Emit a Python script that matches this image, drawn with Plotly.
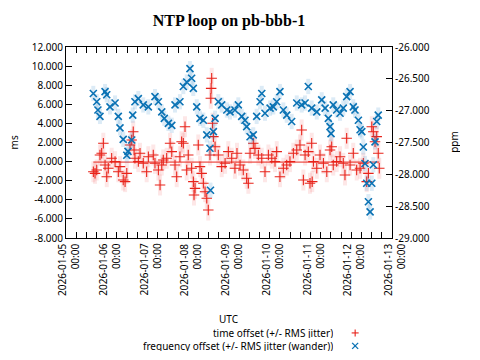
import pandas as pd
import plotly.graph_objects as go

# ---- data (hours after 2026-01-05 00:00 UTC) ----
t_off = [16.1,17.1,18.1,20.0,21.0,22.0,23.0,24.0,24.9,26.9,
         28.9,30.8,31.8,33.7,34.8,35.8,37.7,38.7,39.6,40.1,
         40.6,42.6,43.6,45.5,47.5,48.5,51.4,52.4,54.4,55.4,
         56.4,57.3,59.3,61.3,62.3,64.2,65.2,67.1,68.1,69.1,
         70.1,71.1,72.0,74.0,75.0,75.4,76.0,77.9,78.9,79.9,
         80.9,81.9,82.9,83.8,84.8,85.3,85.5,85.8,86.3,86.8,
         87.8,89.7,91.7,93.7,95.6,97.6,99.5,100.7,102.5,104.4,
         106.4,107.4,108.4,110.3,111.3,113.3,115.3,117.2,119.2,121.2,
         123.1,124.1,126.0,128.0,130.0,131.9,133.9,135.9,137.8,138.8,
         139.8,140.8,142.7,143.7,144.7,145.0,145.7,147.7,149.6,151.6,
         153.6,155.5,156.5,157.4,159.4,161.4,163.3,164.3,165.3,167.3,
         169.2,171.2,173.2,175.1,177.1,178.1,180.1,181.0,182.0,183.0,
         183.9,184.5]
offset_ms = [-1.06,-1.23,-0.88,0.69,0.87,1.92,-0.36,-1.58,-0.70,0.35,
             0.0,-1.06,-0.53,-1.93,-2.10,-1.23,1.74,2.26,3.13,1.21,
             0.35,0.0,0.87,-0.18,-1.06,0.51,0.69,-0.18,-0.88,-2.45,
             -0.36,0.17,0.35,1.92,1.04,-0.36,-1.58,0.51,2.08,1.92,
             3.65,-0.88,0.69,-0.70,-2.10,-3.50,-2.80,1.74,-0.53,-1.23,
             -2.27,-3.15,-3.84,-5.07,0.69,6.63,7.67,8.72,4.01,2.61,
             1.56,0.69,-0.53,-0.18,1.04,0.35,-0.70,0.87,-0.36,-0.88,
             -1.75,-2.27,0.87,1.92,1.39,0.69,0.35,-1.06,0.69,0.35,
             0.0,1.04,-1.58,-0.70,-0.36,0.0,0.87,1.21,1.74,3.31,
             -1.93,0.69,1.04,-2.27,1.92,-2.10,0.0,-0.70,0.69,-0.18,
             -1.06,1.21,1.56,-0.36,0.0,0.51,-0.18,-1.40,2.44,-0.36,
             0.87,-0.88,-0.70,-0.18,-2.10,-1.23,3.65,3.13,2.08,2.61,
             0.87,-0.70]
t_freq = [16.1,18.1,18.8,20.0,23.0,24.0,25.9,28.9,30.8,31.8,
          33.7,35.8,36.5,38.7,39.3,40.6,42.6,45.5,48.5,52.4,
          54.4,56.4,57.9,60.3,62.3,64.2,67.1,69.1,71.1,73.0,
          74.0,75.0,77.0,78.9,80.9,82.9,84.8,85.1,86.8,87.8,
          89.7,91.7,94.7,96.6,99.5,101.5,103.5,105.4,106.4,108.4,
          110.3,112.3,114.3,115.3,117.2,120.2,122.1,124.1,126.0,128.0,
          130.0,132.9,135.9,138.8,140.8,142.7,144.7,147.7,150.6,152.6,
          154.5,155.5,156.1,157.4,159.4,161.4,163.3,165.3,167.3,169.2,
          170.2,172.2,173.2,174.2,175.1,176.1,177.1,178.1,179.1,180.1,
          181.0,182.0,183.0,183.9]
freq_ppm = [-26.73,-26.86,-26.99,-27.09,-26.70,-26.75,-26.94,-26.88,-27.09,-27.27,
            -27.45,-27.70,-27.64,-27.46,-27.07,-26.86,-26.81,-26.91,-26.94,-26.78,
            -26.86,-27.02,-27.12,-27.20,-27.23,-26.91,-26.86,-26.62,-26.55,-26.34,
            -26.49,-26.65,-26.94,-27.12,-27.15,-27.38,-27.59,-28.25,-27.33,-27.12,
            -26.86,-26.91,-26.99,-27.02,-26.99,-26.91,-27.09,-27.15,-27.25,-27.41,
            -27.38,-27.09,-26.86,-26.73,-27.04,-26.96,-26.94,-26.86,-26.70,-26.99,
            -27.07,-27.17,-26.88,-26.91,-26.88,-26.62,-26.96,-27.02,-26.83,-26.96,
            -27.12,-27.25,-27.36,-26.91,-26.99,-27.04,-26.96,-26.78,-26.70,-26.94,
            -26.99,-27.15,-27.30,-27.33,-27.57,-27.83,-28.14,-28.43,-28.59,-28.14,
            -27.85,-27.49,-27.17,-27.07]
t_mean = [16.1, 184.5]
mean_ms = [-0.05, -0.05]
jitter_ms = 1.1
wander_ppm = 0.12

x_days = ["2026-01-05","2026-01-06","2026-01-07","2026-01-08","2026-01-09",
          "2026-01-10","2026-01-11","2026-01-12","2026-01-13"]
y1_vals = [-8,-6,-4,-2,0,2,4,6,8,10,12]
y1_text = ["-8.000","-6.000","-4.000","-2.000","0.000","2.000","4.000","6.000","8.000","10.000","12.000"]
y2_vals = [-29,-28.5,-28,-27.5,-27,-26.5,-26]
y2_text = ["-29.000","-28.500","-28.000","-27.500","-27.000","-26.500","-26.000"]

start = pd.Timestamp("2026-01-05 00:00")
def to_time(hours):
    return start + pd.to_timedelta(hours, unit="h")

RED = "#e8231a"
BLUE = "#0a72b4"
FONT = "Noto Sans"
BLACK = "black"

fig = go.Figure()
fig.add_trace(go.Scatter(
    x=to_time(t_off), y=offset_ms, mode="markers", name="time offset (+/- RMS jitter)",
    marker=dict(symbol="cross-thin", size=7.5, color=RED, line=dict(color=RED, width=1.1)),
    error_y=dict(type="constant", value=jitter_ms, color="rgba(235,60,60,0.12)", thickness=4, width=0),
    showlegend=False))
fig.add_trace(go.Scatter(
    x=to_time(t_mean), y=mean_ms, mode="lines", line=dict(color=RED, width=1),
    showlegend=False, hoverinfo="skip"))
fig.add_trace(go.Scatter(
    x=to_time(t_freq), y=freq_ppm, yaxis="y2", mode="markers",
    name="frequency offset (+/- RMS jitter (wander))",
    marker=dict(symbol="x-thin", size=7, color=BLUE, line=dict(color=BLUE, width=1.6)),
    error_y=dict(type="constant", value=wander_ppm, color="rgba(40,130,200,0.16)", thickness=4, width=0),
    showlegend=False))

def note(**kw):
    base = dict(showarrow=False, xref="paper", yref="paper", xanchor="center", yanchor="middle",
                font=dict(family=FONT, size=10, color=BLACK))
    base.update(kw)
    return base

annotations = []
for d in x_days:
    annotations.append(note(x=d, xref="x", y=0, yanchor="top",
                            yshift=-4, xshift=2, text=d + "<br>00:00", textangle=-90, align="right"))
annotations += [
    note(x=-0.158, y=0.503, text="ms", textangle=-90, height=11),
    note(x=1.193, y=0.503, text="ppm", textangle=-90, height=11),
    note(x=0.5, y=-0.424, text="UTC", height=11),
    note(x=0.825, y=-0.497, xanchor="right", height=11, text="time offset (+/- RMS jitter)"),
    note(x=0.825, y=-0.565, xanchor="right", height=11, text="frequency offset (+/- RMS jitter (wander))"),
]

# legend keys drawn as small line glyphs to the right of the key texts
def key_line(xa, ya, x0, y0, x1, y1, color, width):
    return dict(type="line", xref="paper", yref="paper", xsizemode="pixel", ysizemode="pixel",
                xanchor=xa, yanchor=ya, x0=x0, y0=y0, x1=x1, y1=y1,
                line=dict(color=color, width=width))

shapes = [
    key_line(0.887, -0.497, -3.5, 0, 3.5, 0, RED, 1.1),
    key_line(0.887, -0.497, 0, -3.5, 0, 3.5, RED, 1.1),
    key_line(0.887, -0.565, -3, -3, 3, 3, BLUE, 1.3),
    key_line(0.887, -0.565, -3, 3, 3, -3, BLUE, 1.3),
]

# page body has an 8px margin, so the figure is shrunk by 8px to fit the 480x360 window
fig.update_layout(
    width=472, height=352,
    margin=dict(l=58, r=88, t=39, b=122),
    paper_bgcolor="white", plot_bgcolor="white",
    title=dict(text="<b>NTP loop on pb-bbb-1</b>", x=0.5, xref="paper", y=1 - 12 / 352,
               yanchor="middle", xanchor="center",
               font=dict(family="Liberation Serif", size=16, color=BLACK)),
    font=dict(family=FONT, size=10, color=BLACK),
    annotations=annotations,
    shapes=shapes,
    xaxis=dict(type="date", range=["2026-01-05", "2026-01-13"], tick0="2026-01-05", dtick=86400000,
               ticks="inside", ticklen=6, tickcolor=BLACK, showticklabels=False,
               showline=True, linecolor=BLACK, linewidth=1, mirror="allticks", showgrid=False,
               zeroline=False,
               minor=dict(dtick=6 * 3600000, ticks="inside", ticklen=3, tickcolor=BLACK, showgrid=False)),
    yaxis=dict(range=[-8, 12], tickvals=y1_vals, ticktext=y1_text, ticks="inside", ticklen=6,
               tickcolor=BLACK, showline=True, linecolor=BLACK, linewidth=1, showgrid=False,
               zeroline=False, tickfont=dict(family=FONT, size=10, color=BLACK)),
    yaxis2=dict(range=[-29, -26], tickvals=y2_vals, ticktext=y2_text, overlaying="y", side="right",
                ticks="inside", ticklen=6, tickcolor=BLACK, showline=True, linecolor=BLACK,
                linewidth=1, showgrid=False, zeroline=False,
                tickfont=dict(family=FONT, size=10, color=BLACK)),
)

fig.write_html("out.html")
